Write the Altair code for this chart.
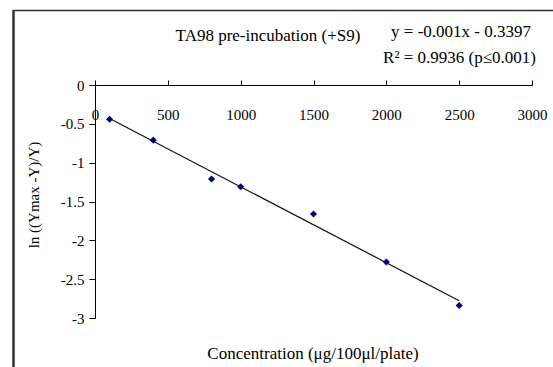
import altair as alt
import pandas as pd

# Data
concentration = [100, 400, 800, 1000, 1500, 2000, 2500]
ln_ratio = [-0.44, -0.71, -1.21, -1.31, -1.66, -2.28, -2.84]

x_ticks = [0, 500, 1000, 1500, 2000, 2500, 3000]
y_ticks = [0, -0.5, -1, -1.5, -2, -2.5, -3]

title_text = "TA98 pre-incubation (+S9)"
eq_line1 = "y = -0.001x - 0.3397"
eq_line2 = "R\u00b2 = 0.9936 (p\u22640.001)"
x_title = "Concentration (\u03bcg/100\u03bcl/plate)"
y_title = "ln ((Ymax -Y)/Y)"

df = pd.DataFrame({"x": concentration, "y": ln_ratio})

FONT = "Liberation Serif"
W, H = 437, 233

xscale = alt.Scale(domain=[0, 3000], nice=False, zero=True)
yscale = alt.Scale(domain=[-3, 0], nice=False)

xaxis = alt.Axis(
    orient="top", values=x_ticks, format="d", title=None, grid=False,
    tickSize=5, labelPadding=-42, labelBaseline="bottom",
    labelFont=FONT, labelFontSize=15, labelColor="black",
    domainColor="black", tickColor="black", labelFlush=False,
    labelOverlap=False,
)
yaxis = alt.Axis(
    orient="left", values=y_ticks, title=None, grid=False, tickSize=6,
    labelExpr="datum.value == 0 ? '0' : (datum.value < 0 ? '-' : '') + format(abs(datum.value), '~g')",
    labelFont=FONT, labelFontSize=15, labelColor="black",
    domainColor="black", tickColor="black", labelPadding=5,
    labelOverlap=False, labelFlush=False,
)

base = alt.Chart(df)

points = base.mark_point(shape="diamond", filled=True, size=50, color="#00007f", opacity=1).encode(
    x=alt.X("x:Q", scale=xscale, axis=xaxis),
    y=alt.Y("y:Q", scale=yscale, axis=yaxis),
)

trend = base.transform_regression("x", "y").mark_line(color="#111111", strokeWidth=1.2).encode(
    x=alt.X("x:Q", scale=xscale, axis=xaxis),
    y=alt.Y("y:Q", scale=yscale, axis=yaxis),
)

one = alt.Data(values=[{}])

def txt(text, x, y, size=17, align="left", angle=0):
    kw = dict(font=FONT, fontSize=size, align=align, baseline="alphabetic", color="black")
    if angle:
        kw["angle"] = angle
        kw["baseline"] = "middle"
    return alt.Chart(one).mark_text(**kw).encode(
        x=alt.value(x), y=alt.value(y), text=alt.value(text)
    )

title = txt(title_text, 173, -44, size=17, align="center")
eq1 = txt(eq_line1, 436, -48, size=17, align="right")
eq2 = txt(eq_line2, 441, -22, size=17, align="right")
xt = txt(x_title, 218, 274, size=17, align="center")
yt = txt(y_title, -61, 110, size=15, align="center", angle=270)

frame_left = alt.Chart(one).mark_rule(color="#333333", strokeWidth=2.5).encode(
    x=alt.value(-81.5), y=alt.value(-75), y2=alt.value(290)
)
frame_top = alt.Chart(one).mark_rule(color="#333333", strokeWidth=1.5).encode(
    y=alt.value(-74.5), x=alt.value(-82), x2=alt.value(470)
)

chart = alt.layer(
    frame_left, frame_top, trend, points, title, eq1, eq2, xt, yt
).properties(
    width=W, height=H,
    autosize=alt.AutoSizeParams(type="none"),
    padding={"left": 95, "top": 85, "right": 21, "bottom": 49},
    background="white",
).configure_view(strokeWidth=0)

chart.save("out.html", embed_options={"renderer": "svg", "actions": False})
